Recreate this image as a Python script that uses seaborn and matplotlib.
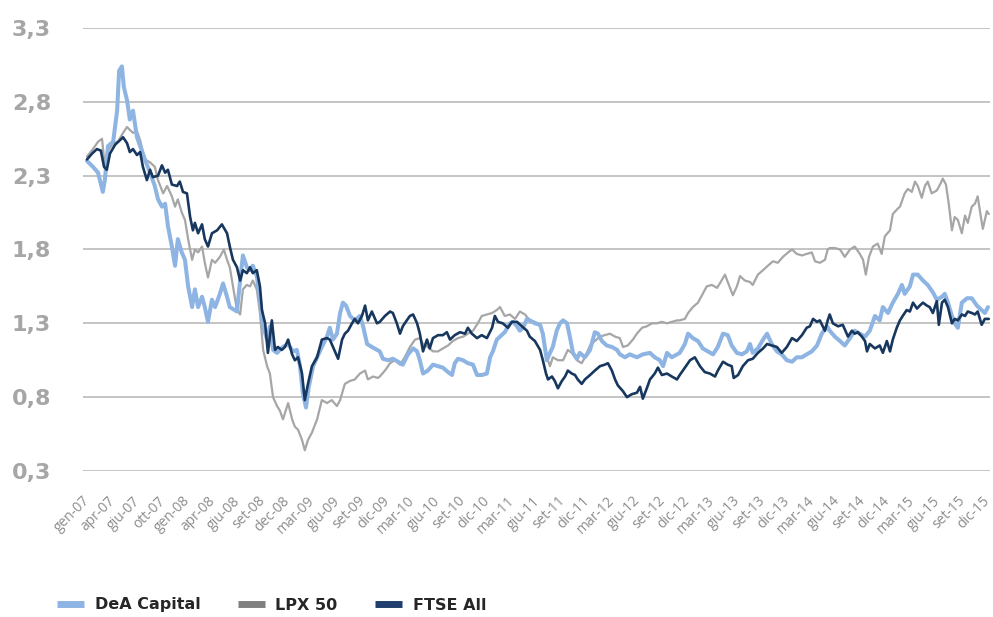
import seaborn as sns
import pandas as pd
import numpy as np
import matplotlib.pyplot as plt

sns.set_style("white")
plt.rcParams["font.family"] = ["DejaVu Sans"]

# etichette asse x (una ogni ~63 giorni di borsa)
mesi = ["gen-07", "apr-07", "giu-07", "ott-07", "gen-08", "apr-08", "giu-08", "set-08", "dec-08",
        "mar-09", "giu-09", "set-09", "dic-09", "mar-10", "giu-10", "set-10", "dic-10", "mar-11",
        "giu-11", "set-11", "dic-11", "mar-12", "giu-12", "set-12", "dic-12", "mar-13", "giu-13",
        "set-13", "dic-13", "mar-14", "giu-14", "set-14", "dic-14", "mar-15", "giu-15", "set-15",
        "dic-15"]
passo = 63.0

# DeA Capital: (giorno di borsa, valore)
dea_giorno = [0, 15, 28, 40, 45, 53, 66, 76, 81, 88, 93, 101, 108, 116, 126, 134, 146, 159, 171, 179,
              189, 197, 204, 214, 222, 229, 239, 247, 255, 265, 272, 280, 290, 297, 305, 315, 323, 335,
              343, 353, 360, 378, 386, 393, 403, 411, 418, 428, 436, 444, 454, 461, 469, 479, 486, 494,
              507, 519, 529, 537, 544, 552, 559, 570, 580, 592, 605, 612, 620, 630, 638, 645, 653, 663,
              675, 688, 696, 706, 718, 731, 738, 746, 759, 771, 784, 796, 809, 822, 832, 839, 847, 859,
              872, 885, 897, 910, 920, 927, 935, 948, 960, 973, 983, 995, 1008, 1016, 1023, 1033, 1041,
              1053, 1066, 1074, 1084, 1091, 1099, 1109, 1116, 1129, 1142, 1149, 1159, 1167, 1174, 1184,
              1192, 1200, 1210, 1217, 1225, 1235, 1242, 1255, 1268, 1280, 1288, 1298, 1310, 1323, 1336,
              1343, 1356, 1368, 1386, 1401, 1419, 1431, 1444, 1452, 1462, 1474, 1487, 1494, 1507, 1515,
              1527, 1540, 1552, 1565, 1578, 1590, 1603, 1615, 1625, 1638, 1651, 1663, 1671, 1678, 1691,
              1704, 1714, 1726, 1739, 1751, 1764, 1777, 1789, 1802, 1814, 1827, 1840, 1852, 1865, 1872,
              1885, 1898, 1910, 1923, 1935, 1948, 1961, 1973, 1986, 1998, 2006, 2019, 2031, 2044, 2054,
              2061, 2074, 2082, 2094, 2107, 2119, 2132, 2142, 2155, 2162, 2170, 2180, 2187, 2195, 2205,
              2218, 2230, 2243, 2255, 2263, 2271]
dea_valore = [2.40, 2.36, 2.32, 2.19, 2.27, 2.50, 2.53, 2.74, 3.01, 3.04, 2.90, 2.81, 2.68, 2.74, 2.56,
              2.50, 2.41, 2.32, 2.23, 2.14, 2.09, 2.11, 1.96, 1.82, 1.69, 1.87, 1.78, 1.73, 1.55, 1.41,
              1.53, 1.41, 1.48, 1.41, 1.31, 1.46, 1.41, 1.50, 1.57, 1.48, 1.41, 1.38, 1.59, 1.76, 1.68,
              1.66, 1.69, 1.62, 1.46, 1.28, 1.19, 1.28, 1.12, 1.10, 1.12, 1.14, 1.16, 1.11, 1.12, 1.01,
              0.83, 0.73, 0.87, 1.01, 1.07, 1.14, 1.21, 1.27, 1.19, 1.23, 1.37, 1.44, 1.42, 1.35, 1.32,
              1.35, 1.28, 1.16, 1.14, 1.12, 1.11, 1.06, 1.05, 1.06, 1.04, 1.02, 1.09, 1.13, 1.11, 1.05,
              0.96, 0.98, 1.02, 1.01, 1.00, 0.97, 0.95, 1.03, 1.06, 1.05, 1.03, 1.02, 0.95, 0.95, 0.96,
              1.07, 1.11, 1.19, 1.21, 1.24, 1.30, 1.31, 1.28, 1.25, 1.27, 1.33, 1.32, 1.30, 1.29, 1.23,
              1.05, 1.10, 1.14, 1.25, 1.30, 1.32, 1.30, 1.21, 1.10, 1.06, 1.10, 1.07, 1.12, 1.24, 1.23,
              1.18, 1.15, 1.14, 1.12, 1.09, 1.07, 1.09, 1.07, 1.09, 1.10, 1.07, 1.05, 1.01, 1.10, 1.07,
              1.09, 1.10, 1.16, 1.23, 1.20, 1.18, 1.13, 1.11, 1.09, 1.14, 1.23, 1.22, 1.15, 1.10, 1.09,
              1.11, 1.16, 1.10, 1.13, 1.19, 1.23, 1.16, 1.11, 1.09, 1.05, 1.04, 1.07, 1.07, 1.09, 1.11,
              1.15, 1.23, 1.28, 1.25, 1.21, 1.18, 1.15, 1.20, 1.25, 1.23, 1.21, 1.25, 1.35, 1.32, 1.41,
              1.37, 1.44, 1.50, 1.56, 1.50, 1.55, 1.63, 1.63, 1.59, 1.56, 1.51, 1.46, 1.48, 1.50, 1.44,
              1.35, 1.30, 1.27, 1.44, 1.47, 1.47, 1.42, 1.39, 1.37, 1.41]

# LPX 50
lpx_giorno = [0, 15, 28, 38, 45, 53, 66, 78, 91, 101, 108, 116, 126, 134, 146, 159, 171, 179, 192, 202,
              214, 222, 229, 239, 247, 255, 265, 272, 280, 290, 297, 305, 315, 323, 335, 345, 353, 360,
              368, 378, 386, 393, 403, 411, 418, 428, 436, 444, 454, 461, 469, 479, 486, 494, 507, 517,
              524, 532, 542, 549, 557, 567, 580, 592, 605, 617, 630, 638, 650, 663, 675, 688, 701, 708,
              721, 733, 738, 751, 764, 776, 789, 801, 814, 827, 839, 847, 859, 872, 885, 897, 910, 922,
              935, 948, 960, 973, 985, 995, 1008, 1021, 1033, 1041, 1053, 1066, 1079, 1091, 1104, 1116,
              1129, 1142, 1149, 1159, 1167, 1174, 1187, 1200, 1212, 1222, 1235, 1247, 1255, 1268, 1280,
              1293, 1305, 1318, 1331, 1343, 1351, 1363, 1376, 1386, 1399, 1411, 1424, 1436, 1449, 1462,
              1474, 1487, 1494, 1507, 1515, 1527, 1540, 1552, 1562, 1575, 1588, 1595, 1608, 1615, 1628,
              1638, 1646, 1658, 1671, 1678, 1691, 1704, 1716, 1729, 1741, 1754, 1767, 1777, 1789, 1802,
              1814, 1827, 1835, 1847, 1860, 1867, 1872, 1885, 1898, 1910, 1923, 1935, 1948, 1956, 1963,
              1971, 1981, 1993, 2003, 2011, 2024, 2031, 2041, 2049, 2061, 2069, 2079, 2087, 2094, 2104,
              2112, 2119, 2129, 2142, 2150, 2157, 2165, 2172, 2180, 2187, 2195, 2205, 2213, 2220, 2230,
              2238, 2245, 2253, 2258, 2268, 2273]
lpx_valore = [2.43, 2.48, 2.53, 2.55, 2.36, 2.47, 2.52, 2.53, 2.59, 2.63, 2.61, 2.59, 2.60, 2.54, 2.41,
              2.39, 2.36, 2.27, 2.18, 2.23, 2.16, 2.09, 2.14, 2.05, 2.00, 1.87, 1.73, 1.80, 1.78, 1.82,
              1.71, 1.61, 1.73, 1.71, 1.75, 1.80, 1.73, 1.68, 1.55, 1.39, 1.36, 1.53, 1.56, 1.55, 1.59,
              1.53, 1.37, 1.12, 1.01, 0.96, 0.80, 0.74, 0.71, 0.65, 0.76, 0.65, 0.60, 0.58, 0.51, 0.44,
              0.51, 0.56, 0.65, 0.78, 0.76, 0.78, 0.74, 0.78, 0.89, 0.91, 0.92, 0.96, 0.98, 0.92, 0.94,
              0.93, 0.94, 0.98, 1.03, 1.05, 1.02, 1.07, 1.14, 1.19, 1.20, 1.16, 1.14, 1.11, 1.11, 1.13,
              1.15, 1.18, 1.20, 1.21, 1.23, 1.25, 1.30, 1.35, 1.36, 1.37, 1.39, 1.41, 1.35, 1.36, 1.33,
              1.38, 1.36, 1.32, 1.31, 1.29, 1.21, 1.07, 1.01, 1.07, 1.05, 1.05, 1.12, 1.10, 1.05, 1.03,
              1.07, 1.15, 1.18, 1.21, 1.22, 1.23, 1.21, 1.20, 1.14, 1.15, 1.19, 1.23, 1.27, 1.28, 1.30,
              1.30, 1.31, 1.30, 1.31, 1.32, 1.32, 1.33, 1.37, 1.41, 1.44, 1.50, 1.55, 1.56, 1.54, 1.57,
              1.63, 1.58, 1.49, 1.55, 1.62, 1.59, 1.58, 1.56, 1.63, 1.66, 1.69, 1.72, 1.71, 1.75, 1.78,
              1.80, 1.77, 1.76, 1.77, 1.78, 1.72, 1.71, 1.73, 1.80, 1.81, 1.81, 1.80, 1.75, 1.80, 1.82,
              1.77, 1.73, 1.63, 1.75, 1.82, 1.84, 1.77, 1.89, 1.93, 2.04, 2.07, 2.09, 2.18, 2.21, 2.19,
              2.26, 2.23, 2.15, 2.23, 2.26, 2.18, 2.20, 2.24, 2.28, 2.24, 2.11, 1.93, 2.02, 2.00, 1.91,
              2.03, 1.98, 2.09, 2.11, 2.16, 2.02, 1.94, 2.06, 2.04]

# FTSE All
ftse_giorno = [0, 13, 25, 35, 43, 50, 58, 71, 83, 91, 101, 108, 116, 126, 134, 141, 151, 159, 166, 179,
               189, 197, 204, 214, 227, 234, 242, 252, 260, 267, 272, 280, 290, 297, 305, 315, 328, 340,
               353, 360, 368, 378, 386, 393, 403, 411, 418, 428, 436, 441, 449, 456, 466, 474, 481, 491,
               499, 507, 517, 524, 532, 542, 549, 557, 567, 580, 592, 605, 612, 620, 633, 643, 650, 658,
               668, 675, 683, 693, 701, 708, 718, 731, 738, 751, 764, 771, 781, 789, 796, 806, 814, 822,
               832, 839, 847, 857, 864, 872, 885, 897, 907, 915, 927, 940, 953, 960, 970, 983, 995, 1008,
               1021, 1028, 1036, 1048, 1061, 1071, 1084, 1096, 1109, 1116, 1129, 1142, 1149, 1157, 1162,
               1172, 1179, 1187, 1197, 1205, 1212, 1222, 1230, 1237, 1247, 1255, 1268, 1280, 1293, 1305,
               1313, 1323, 1331, 1338, 1351, 1361, 1373, 1386, 1394, 1401, 1411, 1419, 1431, 1439, 1449,
               1462, 1474, 1487, 1494, 1507, 1520, 1532, 1545, 1557, 1570, 1583, 1590, 1603, 1615, 1625,
               1630, 1641, 1653, 1666, 1678, 1691, 1704, 1714, 1726, 1739, 1751, 1764, 1777, 1789, 1802,
               1814, 1822, 1830, 1840, 1847, 1860, 1867, 1872, 1880, 1893, 1905, 1918, 1928, 1935, 1943,
               1953, 1961, 1966, 1973, 1986, 1998, 2006, 2016, 2024, 2031, 2041, 2049, 2056, 2066, 2074,
               2082, 2092, 2099, 2107, 2117, 2124, 2132, 2142, 2147, 2155, 2162, 2170, 2180, 2187, 2195,
               2205, 2213, 2220, 2230, 2238, 2245, 2255, 2263, 2273]
ftse_valore = [2.41, 2.45, 2.48, 2.47, 2.36, 2.34, 2.45, 2.51, 2.54, 2.56, 2.52, 2.46, 2.48, 2.44, 2.46,
               2.36, 2.27, 2.34, 2.29, 2.30, 2.37, 2.32, 2.34, 2.24, 2.23, 2.26, 2.19, 2.18, 2.02, 1.93,
               1.98, 1.91, 1.97, 1.87, 1.82, 1.91, 1.93, 1.97, 1.91, 1.82, 1.73, 1.68, 1.59, 1.66, 1.64,
               1.68, 1.64, 1.66, 1.55, 1.39, 1.30, 1.10, 1.32, 1.12, 1.14, 1.12, 1.14, 1.19, 1.09, 1.05,
               1.07, 0.96, 0.78, 0.89, 1.01, 1.07, 1.19, 1.20, 1.19, 1.14, 1.06, 1.19, 1.23, 1.25, 1.30,
               1.33, 1.30, 1.35, 1.42, 1.32, 1.38, 1.30, 1.31, 1.35, 1.38, 1.37, 1.30, 1.23, 1.28, 1.32,
               1.35, 1.36, 1.30, 1.23, 1.11, 1.19, 1.13, 1.20, 1.22, 1.22, 1.24, 1.19, 1.22, 1.24, 1.23,
               1.27, 1.23, 1.20, 1.22, 1.20, 1.27, 1.35, 1.31, 1.30, 1.27, 1.31, 1.31, 1.28, 1.25, 1.21,
               1.18, 1.12, 1.05, 0.96, 0.92, 0.94, 0.91, 0.86, 0.91, 0.94, 0.98, 0.96, 0.95, 0.92, 0.89,
               0.92, 0.95, 0.98, 1.01, 1.02, 1.03, 0.98, 0.92, 0.88, 0.84, 0.80, 0.82, 0.83, 0.87, 0.79,
               0.86, 0.92, 0.96, 1.00, 0.95, 0.96, 0.94, 0.92, 0.95, 1.00, 1.05, 1.07, 1.01, 0.97, 0.96,
               0.94, 0.98, 1.04, 1.02, 1.01, 0.93, 0.95, 1.01, 1.05, 1.06, 1.10, 1.13, 1.16, 1.15, 1.14,
               1.10, 1.14, 1.20, 1.18, 1.22, 1.27, 1.28, 1.33, 1.31, 1.32, 1.25, 1.32, 1.36, 1.30, 1.28,
               1.29, 1.21, 1.25, 1.23, 1.24, 1.21, 1.18, 1.11, 1.16, 1.13, 1.15, 1.10, 1.18, 1.11, 1.19,
               1.27, 1.32, 1.35, 1.39, 1.38, 1.44, 1.40, 1.42, 1.44, 1.42, 1.41, 1.37, 1.45, 1.29, 1.44,
               1.46, 1.41, 1.30, 1.33, 1.32, 1.36, 1.35, 1.38, 1.37, 1.36, 1.38, 1.29, 1.33, 1.33]

serie = [
    ("LPX 50", lpx_giorno, lpx_valore, "#A6A6A6", 1.6),
    ("DeA Capital", dea_giorno, dea_valore, "#8DB4E2", 2.9),
    ("FTSE All", ftse_giorno, ftse_valore, "#17375E", 1.9),
]

fig = plt.figure(figsize=(9.93, 6.17), dpi=100)
ax = fig.add_axes([83 / 993, 1 - 471 / 617, 907 / 993, 443 / 617])

for nome, giorni, valori, colore, lw in serie:
    df = pd.DataFrame({"giorno": giorni, "valore": valori})
    sns.lineplot(data=df, x="giorno", y="valore", ax=ax, color=colore, linewidth=lw,
                 estimator=None, sort=False, label=nome, legend=False)

ax.set_xlim(-10, 2276)
ax.set_ylim(0.3, 3.3)
ax.set_yticks(np.arange(0.3, 3.31, 0.5))
ax.set_yticklabels([f"{v:.1f}".replace(".", ",") for v in np.arange(0.3, 3.31, 0.5)],
                   fontsize=16, fontweight="bold", color="#A6A6A6")
ax.set_xticks(np.arange(len(mesi)) * passo + 2)
ax.set_xticklabels(mesi, rotation=45, ha="right", va="center", rotation_mode="anchor",
                   fontsize=10, color="#8C8C8C", family=["Open Sans", "DejaVu Sans"])
ax.tick_params(axis="y", length=0, pad=23)
ax.tick_params(axis="x", length=0, pad=20)
ax.set_xlabel("")
ax.set_ylabel("")
ax.grid(axis="y", color="#BFBFBF", linewidth=1.3)
ax.grid(axis="x", visible=False)
for s in ax.spines.values():
    s.set_visible(False)

# legenda in basso, nell'ordine DeA, LPX, FTSE
h, l = ax.get_legend_handles_labels()
ordine = [l.index("DeA Capital"), l.index("LPX 50"), l.index("FTSE All")]
colori_legenda = ["#8DB4E2", "#808080", "#1F3E6E"]
maniglie = [plt.Line2D([], [], color=c, linewidth=5, solid_capstyle="butt") for c in colori_legenda]
fig.legend(maniglie, [l[i] for i in ordine], loc="center left", bbox_to_anchor=(57 / 993, 1 - 605 / 617),
           ncol=3, frameon=False, prop={"weight": "bold", "size": 11.5}, handlelength=1.7,
           handletextpad=0.65, columnspacing=2.35, borderpad=0, borderaxespad=0)

fig.savefig("out.png", dpi=100)
